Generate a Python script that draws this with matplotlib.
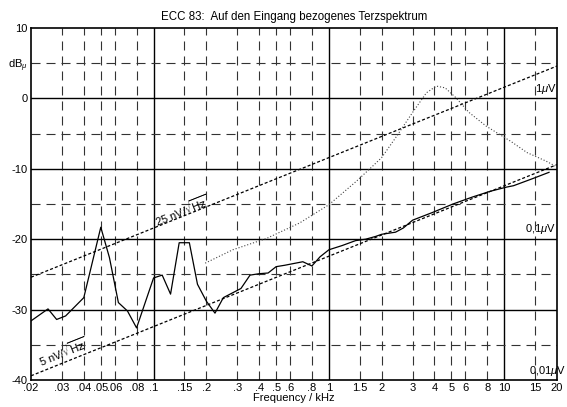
import numpy as np
import matplotlib
matplotlib.use("Agg")
import matplotlib.pyplot as plt

plt.rcParams['font.family'] = ['Liberation Sans', 'DejaVu Sans']
plt.rcParams['mathtext.fontset'] = 'custom'
plt.rcParams['mathtext.rm'] = 'Liberation Sans'
plt.rcParams['mathtext.it'] = 'Liberation Sans:italic'
plt.rcParams['lines.scale_dashes'] = False

# measured third-octave spectrum (kHz, dB re 1 uV)
meas_f = [0.020, 0.025, 0.028, 0.0315, 0.040, 0.050, 0.056, 0.063, 0.071, 0.080,
          0.100, 0.112, 0.125, 0.140, 0.160, 0.178, 0.200, 0.224, 0.250, 0.315,
          0.355, 0.400, 0.450, 0.500, 0.560, 0.710, 0.800, 0.890, 1.00, 1.19,
          1.42, 1.62, 1.85, 2.00, 2.40, 2.66, 3.00, 3.90, 5.10, 6.60,
          8.30, 10.3, 11.3, 14.5, 18.0]
meas_db = [-31.6, -29.9, -31.4, -30.9, -28.3, -18.3, -22.6, -29.0, -30.2, -32.6,
           -25.5, -25.1, -27.8, -20.5, -20.5, -26.4, -28.8, -30.5, -28.3, -27.0,
           -25.1, -24.9, -24.8, -23.9, -23.7, -23.2, -23.8, -22.5, -21.5, -20.9,
           -20.2, -20.0, -19.6, -19.3, -19.0, -18.4, -17.3, -16.2, -15.0, -14.0,
           -13.2, -12.6, -12.4, -11.4, -10.5]

# dotted curve
dot_f = [0.197, 0.283, 0.44, 0.68, 1.0, 1.43, 1.78, 2.0, 2.43, 3.0, 3.6, 4.1, 4.6,
         5.3, 6.3, 7.9, 10.9, 13.5, 17.3, 19.5]
dot_db = [-23.4, -21.5, -19.9, -17.7, -15.1, -11.8, -9.6, -8.4, -5.4, -2.0, 0.8, 1.75,
          1.5, 0.1, -2.0, -3.95, -6.1, -7.7, -8.9, -9.6]

# reference noise lines
ref_f = [0.02, 20.0]
ref25_db = [-25.4, 4.6]
ref5_db = [-39.4, -9.4]

xticks = [0.02, 0.03, 0.04, 0.05, 0.06, 0.08, 0.1, 0.15, 0.2, 0.3, 0.4, 0.5, 0.6, 0.8,
          1, 1.5, 2, 3, 4, 5, 6, 8, 10, 15, 20]
xlabels = ['.02', '.03', '.04', '.05', '.06', '.08', '.1', '.15', '.2', '.3', '.4', '.5',
           '.6', '.8', '1', '1.5', '2', '3', '4', '5', '6', '8', '10', '15', '20']
x_solid = [0.1, 1, 10]
y_solid = [0, -10, -20, -30]
y_dashed = [5, -5, -15, -25, -35]

fig = plt.figure(figsize=(5.67, 4.07), dpi=100)
ax = fig.add_axes([0.0547, 0.0663, 0.9277, 0.8649])
ax.set_xscale('log')
ax.set_xlim(0.02, 20)
ax.set_ylim(-40, 10)

grid_dash = (0, (6.5, 4.3))
for xv in xticks:
    if xv in x_solid:
        ax.axvline(xv, color='black', lw=1.0, zorder=1)
    elif xv not in (0.02, 20):
        ax.axvline(xv, color='#333333', lw=0.8, ls=grid_dash, zorder=1)
for yv in y_solid:
    ax.axhline(yv, color='black', lw=1.0, zorder=1)
for yv in y_dashed:
    ax.axhline(yv, color='#333333', lw=0.8, ls=grid_dash, zorder=1)

ax.plot(ref_f, ref25_db, color='black', lw=0.9, ls=(0, (2.2, 1.5)), zorder=3)
ax.plot(ref_f, ref5_db, color='black', lw=0.9, ls=(0, (2.2, 1.5)), zorder=3)
ax.plot(dot_f, dot_db, color='#444444', lw=0.8, ls=(0, (0.8, 1.4)), zorder=3)
ax.plot(meas_f, meas_db, color='black', lw=0.9, zorder=4)

ax.set_xticks(xticks)
ax.set_xticklabels(xlabels)
ax.xaxis.set_minor_locator(matplotlib.ticker.NullLocator())
ax.set_yticks([10, 5, 0, -10, -20, -30, -40])
ax.set_yticklabels(['10', 'dB$_\\mu$', '0', '-10', '-20', '-30', '-40'])
ax.tick_params(axis='both', length=0, labelsize=8, pad=2.5)
for s in ax.spines.values():
    s.set_linewidth(1.2)

ax.set_title('ECC 83:  Auf den Eingang bezogenes Terzspektrum', fontsize=8.3, pad=6)
ax.set_xlabel('Frequency / kHz', fontsize=8, labelpad=0)

ang = 21.8
ax.text(0.145, -15.9, '25 nV/$\\sqrt{\\mathrm{Hz}}$', fontsize=8, rotation=ang,
        ha='center', va='center', rotation_mode='anchor', zorder=5,
        math_fontfamily='dejavusans')
ax.text(0.0301, -36.0, '5 nV/$\\sqrt{\\mathrm{Hz}}$', fontsize=8, rotation=ang,
        ha='center', va='center', rotation_mode='anchor', zorder=5,
        math_fontfamily='dejavusans')

ax.text(19.8, 0.4, '1$\\mu$V', fontsize=8, ha='right', va='bottom', zorder=5)
ax.text(19.8, -19.6, '0,1$\\mu$V', fontsize=8, ha='right', va='bottom', zorder=5)
fig.text(566 / 567, 1 - 378.5 / 407, '0,01$\\mu$V', fontsize=8, ha='right',
         va='bottom', zorder=5)

fig.savefig('out.png', dpi=100)
